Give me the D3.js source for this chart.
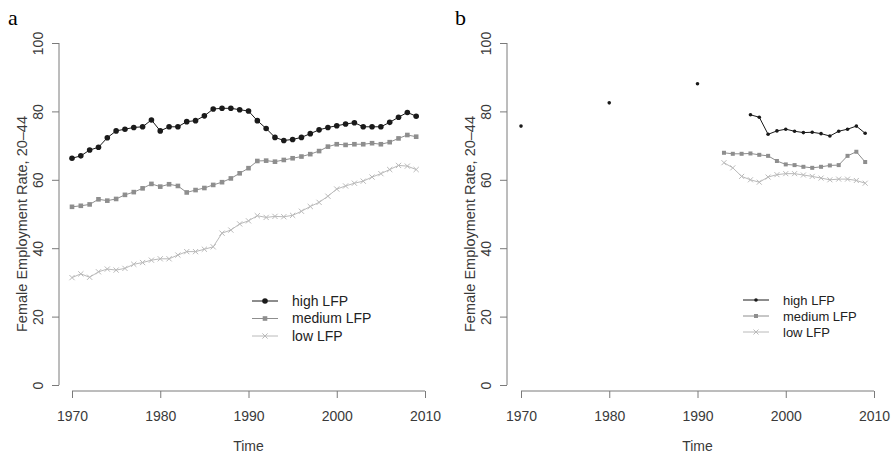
<!DOCTYPE html>
<html>
<head>
<meta charset="utf-8">
<script src="https://cdn.jsdelivr.net/npm/d3@7"></script>
<style>
  body { margin: 0; background: #fff; }
  svg { display: block; }
  text { font-family: "Liberation Sans", Arial, sans-serif; }
</style>
</head>
<body>
<svg id="chart" width="893" height="455"></svg>
<script>
// Panel a: annual series, 1970-2009
const yearsA = [1970,1971,1972,1973,1974,1975,1976,1977,1978,1979,
                1980,1981,1982,1983,1984,1985,1986,1987,1988,1989,
                1990,1991,1992,1993,1994,1995,1996,1997,1998,1999,
                2000,2001,2002,2003,2004,2005,2006,2007,2008,2009];
const highA = [66.3,67.0,68.7,69.5,72.3,74.3,74.8,75.3,75.5,77.5,
               74.3,75.5,75.5,77.0,77.3,78.7,80.7,80.9,80.9,80.5,
               80.1,77.3,75.0,72.4,71.5,71.8,72.4,73.5,74.6,75.3,
               75.8,76.3,76.7,75.5,75.5,75.5,76.8,78.3,79.7,78.6];
const mediumA = [52.1,52.4,52.8,54.3,53.9,54.4,55.6,56.4,57.5,58.8,
                 58.0,58.7,58.2,56.3,57.0,57.6,58.5,59.3,60.4,61.9,
                 63.4,65.5,65.6,65.3,65.8,66.3,66.8,67.5,68.4,69.7,
                 70.4,70.2,70.4,70.4,70.7,70.4,71.0,72.1,73.1,72.6];
const lowA = [31.4,32.5,31.5,33.1,33.9,33.6,34.1,35.3,35.8,36.5,
              36.9,36.9,38.0,39.0,39.0,39.7,40.4,44.4,45.3,47.1,
              48.0,49.5,49.0,49.3,49.2,49.6,50.8,52.2,53.4,55.2,
              57.3,58.2,59.0,59.6,60.8,61.8,63.0,64.2,64.0,63.0];

// Panel b: decade observations, then annual from the 1990s
const highBYears = [1970,1980,1990,1996,1997,1998,1999,2000,2001,2002,2003,2004,2005,2006,2007,2008,2009];
const highB = [75.7,82.5,88.1,79.0,78.3,73.3,74.3,74.8,74.2,73.8,73.9,73.5,72.8,74.2,74.8,75.7,73.6];
const midBYears = [1993,1994,1995,1996,1997,1998,1999,2000,2001,2002,2003,2004,2005,2006,2007,2008,2009];
const mediumB = [67.9,67.6,67.6,67.7,67.3,67.0,65.5,64.5,64.3,63.8,63.5,63.8,64.2,64.3,67.0,68.2,65.2];
const lowBYears = [1993,1994,1995,1996,1997,1998,1999,2000,2001,2002,2003,2004,2005,2006,2007,2008,2009];
const lowB = [65.0,63.5,61.0,60.0,59.3,60.8,61.5,61.8,61.8,61.4,61.0,60.5,60.0,60.2,60.2,59.8,59.0];

const xTicks = [1970,1980,1990,2000,2010];
const yTicks = [0,20,40,60,80,100];
const seriesNames = ["high LFP","medium LFP","low LFP"];

const svg = d3.select("#chart");

const AXIS = "#7a7a7a", TXT = "#3a3a3a";
const colHigh = "#1a1a1a", colMed = "#8e8e8e", colLow = "#bababa";

function zip(xs, ys) { return xs.map((x, i) => ({x, y: ys[i]})); }

function drawMarker(g, type, cx, cy, s, color) {
  if (type === "circle") {
    g.append("circle").attr("cx", cx).attr("cy", cy).attr("r", s).attr("fill", color);
  } else if (type === "square") {
    g.append("rect").attr("x", cx - s).attr("y", cy - s)
      .attr("width", 2 * s).attr("height", 2 * s).attr("fill", color);
  } else {
    g.append("path")
      .attr("d", `M${cx - s},${cy - s}L${cx + s},${cy + s}M${cx - s},${cy + s}L${cx + s},${cy - s}`)
      .attr("stroke", color).attr("stroke-width", 1).attr("fill", "none");
  }
}

function panel(opt) {
  const g = svg.append("g");
  const x = d3.scaleLinear().domain([1970, 2010]).range([opt.x0, opt.x0 + 353]);
  const y = d3.scaleLinear().domain([0, 100]).range([385, 43]);

  // y axis
  const ya = g.append("g").attr("transform", `translate(${opt.yAxisX},0)`)
    .call(d3.axisLeft(y).tickValues(yTicks).tickSize(7).tickPadding(0).tickFormat(d3.format("d")));
  ya.select(".domain").attr("stroke", AXIS).attr("d", `M0,${y(0)}V${y(100)}`);
  ya.selectAll(".tick line").attr("stroke", AXIS);
  ya.selectAll(".tick text")
    .attr("x", 0).attr("y", 0)
    .attr("transform", "translate(-21,0) rotate(-90)")
    .attr("text-anchor", "middle").attr("dy", "0.35em")
    .attr("fill", TXT).style("font-size", "14px");

  // x axis
  const xa = g.append("g").attr("transform", "translate(0,391)")
    .call(d3.axisBottom(x).tickValues(xTicks).tickSize(7).tickPadding(13).tickFormat(d3.format("d")));
  xa.select(".domain").attr("stroke", AXIS).attr("d", `M${x(1970)},0H${x(2010)}`);
  xa.selectAll(".tick line").attr("stroke", AXIS);
  xa.selectAll(".tick text").attr("fill", TXT).style("font-size", "14px");

  g.append("text").attr("x", x(1990)).attr("y", 451).attr("text-anchor", "middle")
    .attr("fill", TXT).style("font-size", "14px").text("Time");

  g.append("text")
    .attr("transform", `translate(${opt.yAxisX - 32},${(y(0) + y(100)) / 2 + 10}) rotate(-90)`)
    .attr("text-anchor", "middle").attr("fill", TXT).style("font-size", "14.5px")
    .text("Female Employment Rate, 20–44");

  g.append("text").attr("x", opt.letterX).attr("y", 25)
    .style("font-family", "'Liberation Serif', 'Times New Roman', serif")
    .style("font-size", "22px").attr("fill", "#000").text(opt.letter);

  // series: lines break wherever consecutive years are not adjacent
  opt.series.forEach(s => {
    const pts = zip(s.years, s.values);
    const segs = [];
    let cur = [];
    pts.forEach((p, i) => {
      if (i > 0 && p.x - pts[i - 1].x > 1) { segs.push(cur); cur = []; }
      cur.push(p);
    });
    segs.push(cur);
    const line = d3.line().x(d => x(d.x)).y(d => y(d.y));
    segs.filter(sg => sg.length > 1).forEach(sg => {
      g.append("path").attr("d", line(sg)).attr("fill", "none")
        .attr("stroke", s.color).attr("stroke-width", 1);
    });
    const mg = g.append("g");
    pts.forEach(p => drawMarker(mg, s.marker, x(p.x), y(p.y), s.size, s.color));
  });

  // legend
  const lg = g.append("g");
  opt.series.forEach((s, i) => {
    const ly = opt.legY + i * opt.legStep;
    lg.append("line").attr("x1", opt.legX).attr("x2", opt.legX + 26)
      .attr("y1", ly).attr("y2", ly).attr("stroke", s.color).attr("stroke-width", 1);
    drawMarker(lg, s.marker, opt.legX + 13, ly, s.size, s.color);
    lg.append("text").attr("x", opt.legX + 40).attr("y", ly).attr("dy", "0.35em")
      .attr("fill", "#222").style("font-size", opt.legFont).text(seriesNames[i]);
  });
}

panel({
  x0: 72, yAxisX: 59, letter: "a", letterX: 8,
  legX: 252, legY: 301, legStep: 17.5, legFont: "14px",
  series: [
    {years: yearsA, values: highA, color: colHigh, marker: "circle", size: 2.8},
    {years: yearsA, values: mediumA, color: colMed, marker: "square", size: 2.3},
    {years: yearsA, values: lowA, color: colLow, marker: "cross", size: 2.6}
  ]
});

panel({
  x0: 521, yAxisX: 507, letter: "b", letterX: 455,
  legX: 743, legY: 300, legStep: 16, legFont: "13px",
  series: [
    {years: highBYears, values: highB, color: colHigh, marker: "circle", size: 1.8},
    {years: midBYears, values: mediumB, color: colMed, marker: "square", size: 2},
    {years: lowBYears, values: lowB, color: colLow, marker: "cross", size: 2.5}
  ]
});
</script>
</body>
</html>
